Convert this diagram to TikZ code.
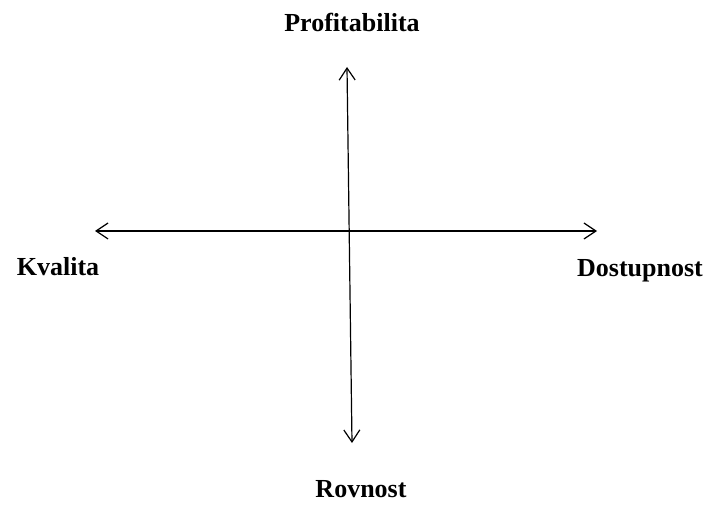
\documentclass[tikz,border=0pt]{standalone}
\usepackage{fontspec}
\setmainfont{Liberation Serif}
\usetikzlibrary{arrows.meta}
\begin{document}
\begin{tikzpicture}[x=1pt,y=-1pt,
  axis/.style={line width=1.2pt,{Straight Barb[length=12pt,width=16pt,line width=1.2pt]}-{Straight Barb[length=12pt,width=16pt,line width=1.2pt]}},
  lbl/.style={font=\fontsize{26}{30}\selectfont\bfseries,inner sep=0pt,anchor=base}]
\useasboundingbox (0,0) rectangle (710,505);
\coordinate (top) at (347,67);
\coordinate (bot) at (352,443);
\coordinate (lft) at (95,231);
\coordinate (rgt) at (597,231);
\draw[axis] (top) -- (bot);
\draw[axis] (lft) -- (rgt);
\node[lbl] (p) at (352,32) {Profitabilita};
\node[lbl] (k) at (58,276) {Kvalita};
\node[lbl] (d) at (640,277) {Dostupnost};
\node[lbl] (r) at (361,497) {Rovnost};
\end{tikzpicture}
\end{document}
